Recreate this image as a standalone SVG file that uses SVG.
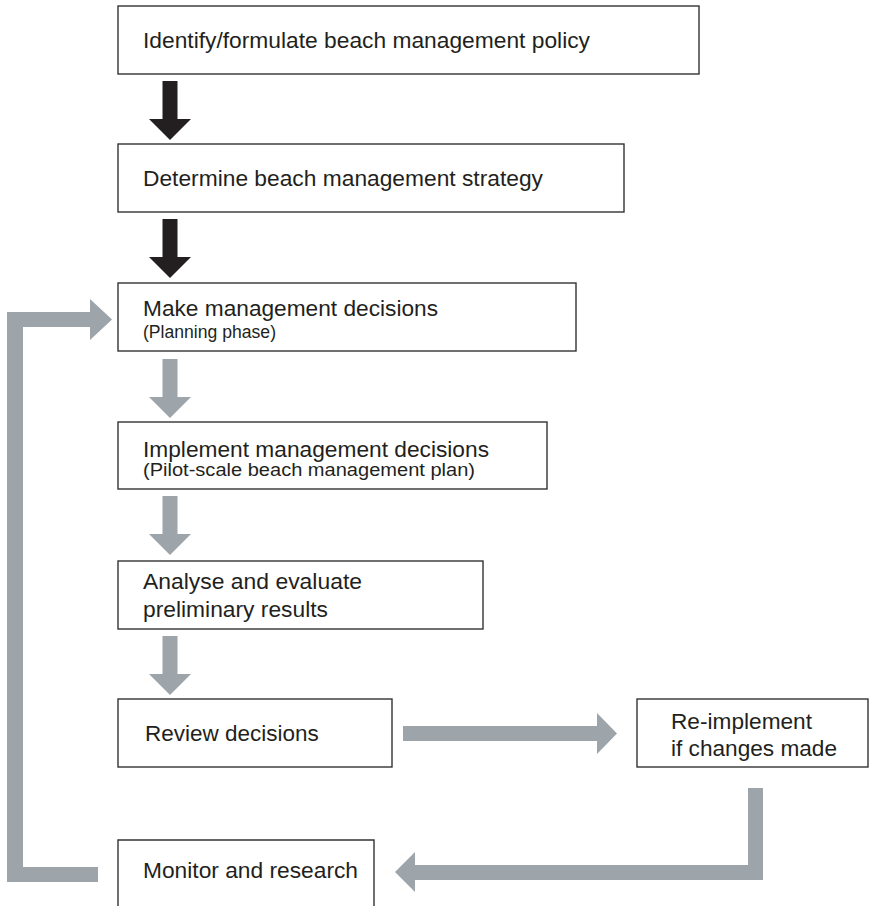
<svg xmlns="http://www.w3.org/2000/svg" width="869" height="906" viewBox="0 0 869 906">
  <style>
    .box { fill: #ffffff; stroke: #333333; stroke-width: 1.4; }
    .label { font-family: "Liberation Sans", Arial, sans-serif; font-size: 22.5px; fill: #231f20; }
    .sub { font-family: "Liberation Sans", Arial, sans-serif; font-size: 17.5px; fill: #231f20; }
    .dark { fill: #231f20; }
    .grey { fill: #9da4aa; }
  </style>
  <defs>
    <!-- downward block arrow, tip at (0,0) -->
    <polygon id="down" points="-7.5,-59 7.5,-59 7.5,-21 21,-21 0,0 -21,-21 -7.5,-21"/>
  </defs>
  <rect width="869" height="906" fill="#ffffff"/>

  <g id="connectors">
    <use href="#down" class="dark" x="170" y="140"/>
    <use href="#down" class="dark" x="170" y="278"/>
    <use href="#down" class="grey" x="170" y="418"/>
    <use href="#down" class="grey" x="170" y="555"/>
    <use href="#down" class="grey" x="170" y="695"/>
    <!-- review -> re-implement -->
    <polygon class="grey" points="403,726 597,726 597,713 617,733.5 597,754 597,741 403,741"/>
    <!-- re-implement -> monitor -->
    <polygon class="grey" points="748,788 763,788 763,880 415,880 415,892 395,872 415,852 415,865 748,865"/>
    <!-- monitor -> make decisions loop -->
    <polygon class="grey" points="98,867 98,882 7,882 7,312 90,312 90,299 112,319.5 90,340 90,327 23,327 23,867"/>
  </g>

  <g id="policy">
    <rect class="box" x="118" y="6" width="581" height="68"/>
    <text class="label" x="143" y="48" textLength="447" lengthAdjust="spacingAndGlyphs">Identify/formulate beach management policy</text>
  </g>
  <g id="strategy">
    <rect class="box" x="118" y="144" width="506" height="68"/>
    <text class="label" x="143" y="186" textLength="400" lengthAdjust="spacingAndGlyphs">Determine beach management strategy</text>
  </g>
  <g id="make-decisions">
    <rect class="box" x="118" y="283" width="458" height="68"/>
    <text class="label" x="143" y="316" textLength="295" lengthAdjust="spacingAndGlyphs">Make management decisions</text>
    <text class="sub" x="143" y="338" textLength="133" lengthAdjust="spacingAndGlyphs">(Planning phase)</text>
  </g>
  <g id="implement">
    <rect class="box" x="118" y="422" width="429" height="67"/>
    <text class="label" x="143" y="457" textLength="346" lengthAdjust="spacingAndGlyphs">Implement management decisions</text>
    <text class="sub" x="143" y="476" textLength="332" lengthAdjust="spacingAndGlyphs">(Pilot-scale beach management plan)</text>
  </g>
  <g id="analyse">
    <rect class="box" x="118" y="561" width="365" height="68"/>
    <text class="label" x="143" y="589" textLength="219" lengthAdjust="spacingAndGlyphs">Analyse and evaluate</text>
    <text class="label" x="143" y="617" textLength="185" lengthAdjust="spacingAndGlyphs">preliminary results</text>
  </g>
  <g id="review">
    <rect class="box" x="118" y="699" width="274" height="68"/>
    <text class="label" x="145" y="741">Review decisions</text>
  </g>
  <g id="reimplement">
    <rect class="box" x="637" y="699" width="231" height="68"/>
    <text class="label" x="671" y="729" textLength="141" lengthAdjust="spacingAndGlyphs">Re-implement</text>
    <text class="label" x="671" y="756" textLength="166" lengthAdjust="spacingAndGlyphs">if changes made</text>
  </g>
  <g id="monitor">
    <path class="box" d="M118,912 V840 H374 V912"/>
    <text class="label" x="143" y="878" textLength="215" lengthAdjust="spacingAndGlyphs">Monitor and research</text>
  </g>
</svg>
